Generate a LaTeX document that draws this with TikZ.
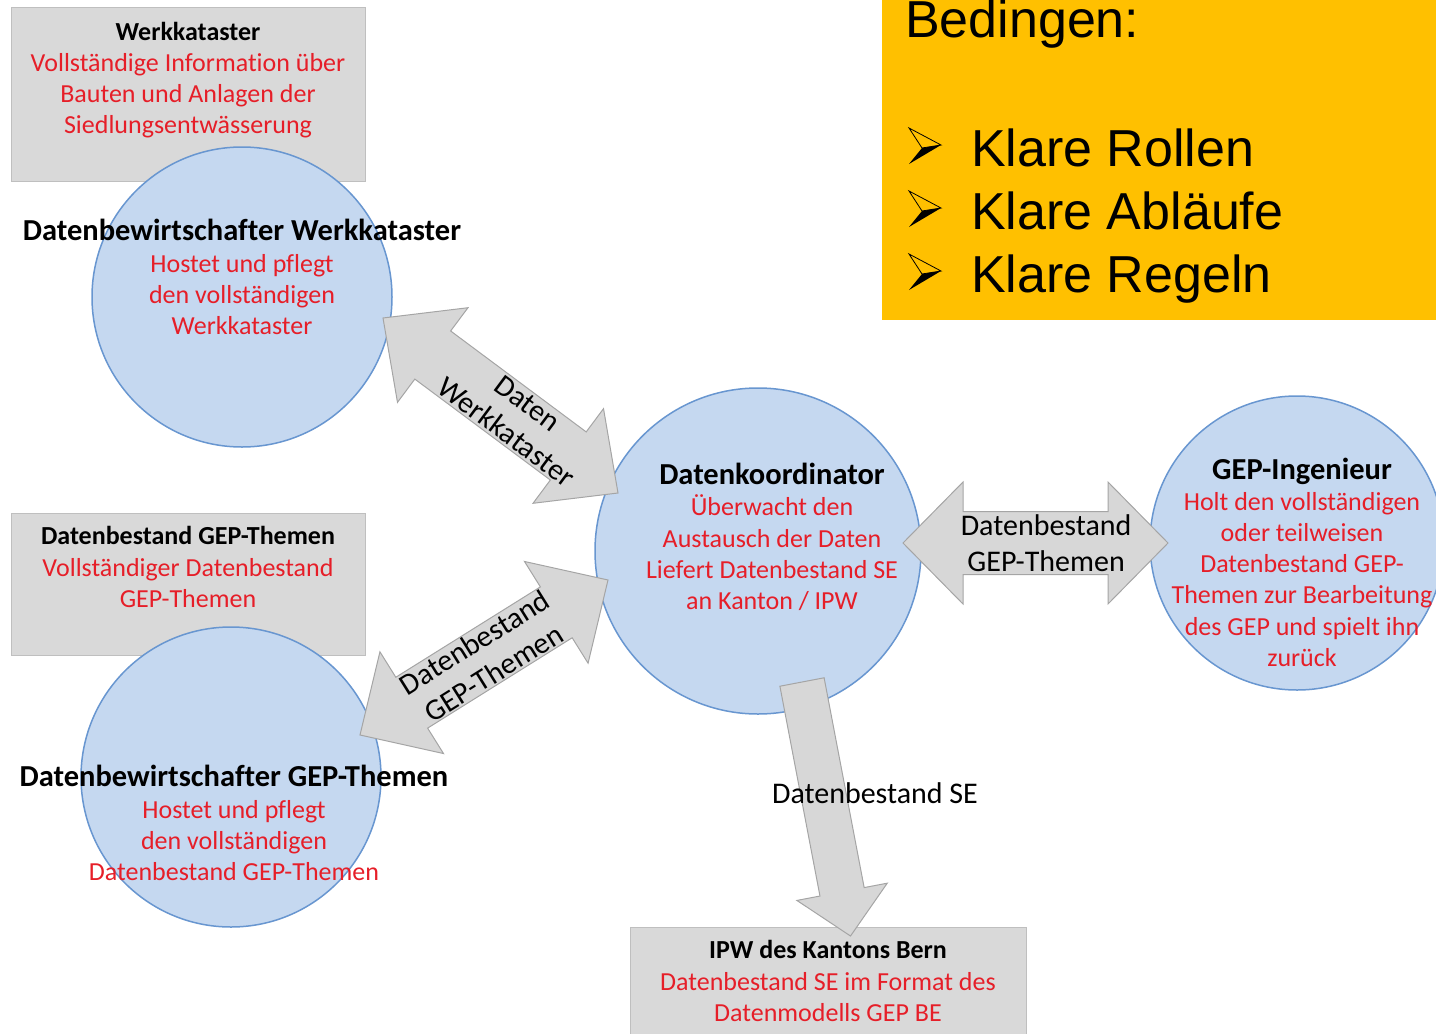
\documentclass[tikz,border=0pt]{standalone}
\usepackage{fontspec}
\setmainfont{Carlito}[Ligatures=NoCommon]
\newfontfamily\arialfont{Liberation Sans}
\usetikzlibrary{calc}

\definecolor{boxgray}{RGB}{217,217,217}
\definecolor{boxline}{RGB}{191,191,191}
\definecolor{circfill}{RGB}{197,216,240}
\definecolor{circline}{RGB}{104,150,208}
\definecolor{txtred}{RGB}{230,30,40}
\definecolor{arrfill}{RGB}{215,215,215}
\definecolor{arrline}{RGB}{165,165,165}
\definecolor{condyellow}{RGB}{255,192,0}

% headings inside the boxes and circles
\newcommand{\circhead}[1]{{\color{black}\fontsize{30.5}{31}\selectfont\bfseries #1}}
\newcommand{\boxhead}[1]{{\color{black}\bfseries #1}}

% block arrows: #1 from, #2 to, #3 half shaft, #4 half head, #5 head length
\newcommand{\dblblock}[5]{%
  \coordinate (bA) at ($(#1)!#5!(#2)$);
  \coordinate (bB) at ($(#2)!#5!(#1)$);
  \draw[blockarrow] (#1) -- ($(bA)!#4!90:(#2)$) -- ($(bA)!#3!90:(#2)$)
    -- ($(bB)!#3!-90:(#1)$) -- ($(bB)!#4!-90:(#1)$) -- (#2)
    -- ($(bB)!#4!90:(#1)$) -- ($(bB)!#3!90:(#1)$)
    -- ($(bA)!#3!-90:(#2)$) -- ($(bA)!#4!-90:(#2)$) -- cycle;}
\newcommand{\sglblock}[5]{%
  \coordinate (bB) at ($(#2)!#5!(#1)$);
  \draw[blockarrow] ($(#1)!#3!90:(#2)$) -- ($(bB)!#3!-90:(#1)$)
    -- ($(bB)!#4!-90:(#1)$) -- (#2) -- ($(bB)!#4!90:(#1)$)
    -- ($(bB)!#3!90:(#1)$) -- ($(#1)!#3!-90:(#2)$) -- cycle;}

\begin{document}
\begin{tikzpicture}[x=1pt, y=-1pt,
    graybox/.style={draw=boxline, fill=boxgray, line width=1pt, inner sep=0, anchor=north west},
    circ/.style={circle, draw=circline, fill=circfill, line width=1.5pt, inner sep=0, outer sep=0},
    redtext/.style={align=center, inner sep=0, text=txtred, font=\fontsize{26}{31.2}\selectfont},
    lbl/.style={align=center, inner sep=0, font=\fontsize{30}{36}\selectfont},
    blockarrow/.style={draw=arrline, fill=arrfill, line width=1pt, line join=miter},
    condtext/.style={anchor=base west, inner sep=0, font=\arialfont\fontsize{52}{60}\selectfont}]

        \useasboundingbox (0,0) rectangle (1436,1034);
        \clip (0,0) rectangle (1436,1034);

        % boxes with the data
        \node[graybox, minimum width=354, minimum height=174] (wkbox) at (11,7) {};
        \node[graybox, minimum width=354, minimum height=142] (gtbox) at (11,513) {};
        \node[graybox, minimum width=396, minimum height=130] (ipbox) at (630,927) {};

        % the roles
        \node[circ, minimum size=300] (wk) at (242,297) {};
        \node[circ, minimum size=300] (gt) at (231,777) {};
        \node[circ, minimum size=326] (dk) at (758,551) {};
        \node[circ, minimum size=294] (ge) at (1297,543) {};

        \node[redtext] (wkboxt) at (188,80) {\boxhead{Werkkataster}\\Vollständige Information über\\Bauten und Anlagen der\\Siedlungsentwässerung};
        \node[redtext] (gtboxt) at (188,567) {\boxhead{Datenbestand GEP-Themen}\\Vollständiger Datenbestand\\GEP-Themen};
        \node[redtext] (ipboxt) at (828,981) {\boxhead{IPW des Kantons Bern}\\Datenbestand SE im Format des\\Datenmodells GEP BE};

        \node[redtext] (wkt) at (242,277) {\circhead{Datenbewirtschafter Werkkataster}\\Hostet und pflegt\\den vollständigen\\Werkkataster};
        \node[redtext] (gtt) at (234,823) {\circhead{Datenbewirtschafter GEP-Themen}\\Hostet und pflegt\\den vollständigen\\Datenbestand GEP-Themen};
        \node[redtext] (dkt) at (772,537) {\circhead{Datenkoordinator}\\Überwacht den\\Austausch der Daten\\Liefert Datenbestand SE\\an Kanton / IPW};
        \node[redtext] (get) at (1302,562) {\circhead{GEP-Ingenieur}\\Holt den vollständigen\\oder teilweisen\\Datenbestand GEP-\\Themen zur Bearbeitung\\des GEP und spielt ihn\\zurück};

        % ends of the block arrows
        \coordinate (wkA) at ($(wk.center)+(141,21)$);
        \coordinate (dkA) at ($(dk.center)+(-140,-58)$);
        \coordinate (gtB) at ($(gt.center)+(129,-42)$);
        \coordinate (dkB) at ($(dk.center)+(-150,29)$);
        \coordinate (dkC) at ($(dk.center)+(44,131)$);
        \coordinate (ipC) at ($(ipbox.north)+(22,9)$);
        \coordinate (dkD) at ($(dk.center)+(145,-8)$);
        \coordinate (geD) at ($(ge.center)+(-129,0)$);

        \dblblock{wkA}{dkA}{30pt}{59pt}{62pt}
        \dblblock{gtB}{dkB}{30pt}{60pt}{61pt}
        \dblblock{dkD}{geD}{31.5pt}{61pt}{60pt}
        \sglblock{dkC}{ipC}{22.5pt}{46pt}{45pt}

        \path (wkA) -- (dkA) node[lbl, pos=0.57, sloped] (lblA) {Daten\\Werkkataster};
        \path (gtB) -- (dkB) node[lbl, pos=0.5, sloped] (lblB) {Datenbestand\\GEP-Themen};
        \path (dkD) -- (geD) node[lbl, pos=0.54] (lblD) {Datenbestand\\GEP-Themen};
        \node[lbl] (lblC) at (875,793) {Datenbestand SE};

        % conditions
        \node[fill=condyellow, minimum width=560, minimum height=330, anchor=south west, inner sep=0] (cond) at (882,320) {};
        \node[condtext] (condhead) at (905,37) {Bedingen:};
        \foreach \txt/\yb [count=\i] in {Klare Rollen/166, Klare Abläufe/229, Klare Regeln/292}
        {
            \fill (922,\yb-18) -- (941,\yb-21) -- (909,\yb-2) -- cycle;
            \draw[line width=0.8pt, line join=miter] (909,\yb-38) -- (941,\yb-21) -- (922,\yb-18) -- cycle;
            \node[condtext] (item\i) at (971,\yb) {\txt};
        }

\end{tikzpicture}
\end{document}
